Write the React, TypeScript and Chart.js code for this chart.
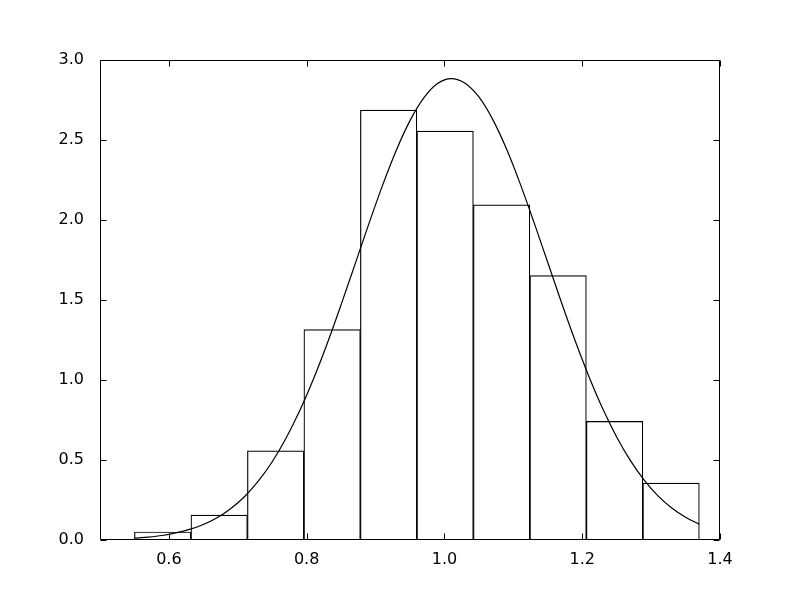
import React, { useEffect, useRef } from "react";
import { Chart, registerables } from "chart.js";

Chart.register(...registerables);

// Histogram bin edges and heights (density)
const binEdges = [0.55, 0.632, 0.714, 0.796, 0.878, 0.96, 1.042, 1.124, 1.206, 1.288, 1.37];
const binHeights = [0.05, 0.155, 0.557, 1.315, 2.687, 2.556, 2.095, 1.652, 0.741, 0.355];

// Fitted curve
const curveX = [
  0.55, 0.57, 0.59, 0.61, 0.63, 0.65, 0.67, 0.69, 0.71, 0.73, 0.75, 0.77, 0.79, 0.81,
  0.83, 0.85, 0.87, 0.89, 0.91, 0.93, 0.95, 0.97, 0.99, 1.01, 1.03, 1.05, 1.07, 1.09,
  1.11, 1.13, 1.15, 1.17, 1.19, 1.21, 1.23, 1.25, 1.27, 1.29, 1.31, 1.33, 1.35, 1.37,
];
const curveY = [
  0.011, 0.018, 0.028, 0.044, 0.066, 0.097, 0.139, 0.197, 0.272, 0.369, 0.489, 0.636,
  0.809, 1.008, 1.23, 1.471, 1.721, 1.973, 2.215, 2.435, 2.621, 2.763, 2.853, 2.884,
  2.855, 2.769, 2.629, 2.445, 2.226, 1.985, 1.734, 1.483, 1.242, 1.019, 0.818, 0.644,
  0.496, 0.374, 0.276, 0.2, 0.142, 0.098,
];

const xTicks = [0.6, 0.8, 1.0, 1.2, 1.4];
const yTicks = [0, 0.5, 1.0, 1.5, 2.0, 2.5, 3.0];

const FONT = { family: "'DejaVu Sans'", size: 16 };

const framePlugin = {
  id: "mplFrame",
  afterDatasetsDraw(chart: any) {
    const { ctx, chartArea, scales } = chart;
    const { left, right, top, bottom } = chartArea;
    const L = Math.round(left) + 0.5;
    const R = Math.round(right) - 0.5;
    const T = Math.round(top) + 0.5;
    const B = Math.round(bottom) - 0.5;
    const len = 6;
    ctx.save();
    ctx.strokeStyle = "#000";
    ctx.lineWidth = 1;
    ctx.beginPath();
    ctx.rect(L, T, R - L, B - T);
    for (const v of xTicks) {
      const px = Math.round(scales.x.getPixelForValue(v)) + 0.5;
      ctx.moveTo(px, B);
      ctx.lineTo(px, B - len);
      ctx.moveTo(px, T);
      ctx.lineTo(px, T + len);
    }
    for (const v of yTicks) {
      const py = Math.round(scales.y.getPixelForValue(v)) + 0.5;
      ctx.moveTo(L, py);
      ctx.lineTo(L + len, py);
      ctx.moveTo(R, py);
      ctx.lineTo(R - len, py);
    }
    ctx.stroke();
    ctx.restore();
  },
};

export default function App() {
  const ref = useRef<HTMLCanvasElement | null>(null);

  useEffect(() => {
    if (!ref.current) return;
    const barData = binHeights.map((h, i) => ({
      x: (binEdges[i] + binEdges[i + 1]) / 2,
      y: h,
    }));
    const lineData = curveX.map((x, i) => ({ x, y: curveY[i] }));

    const chart = new Chart(ref.current, {
      type: "bar",
      data: {
        datasets: [
          {
            type: "line",
            data: lineData,
            borderColor: "#000",
            borderWidth: 1.2,
            pointRadius: 0,
            fill: false,
            cubicInterpolationMode: "monotone",
            order: 0,
          } as any,
          {
            type: "bar",
            data: barData,
            backgroundColor: "#ffffff",
            borderColor: "#000",
            borderWidth: 1.2,
            borderSkipped: false,
            barPercentage: 1,
            categoryPercentage: 1,
            order: 1,
          } as any,
        ],
      },
      options: {
        responsive: false,
        animation: false,
        layout: { padding: { top: 60, right: 80, left: 0, bottom: 0 } },
        plugins: {
          legend: { display: false },
          tooltip: { enabled: false },
        },
        scales: {
          x: {
            type: "linear",
            min: 0.5,
            max: 1.4,
            offset: false,
            grid: { display: false },
            border: { display: false },
            afterBuildTicks: (scale: any) => {
              scale.ticks = xTicks.map((v) => ({ value: v }));
            },
            afterFit: (scale: any) => {
              scale.height = 60;
            },
            ticks: {
              color: "#000",
              font: FONT,
              padding: 2,
              maxRotation: 0,
              autoSkip: false,
              callback: (v: any) => Number(v).toFixed(1),
            },
          },
          y: {
            type: "linear",
            min: 0,
            max: 3,
            grid: { display: false },
            border: { display: false },
            afterBuildTicks: (scale: any) => {
              scale.ticks = yTicks.map((v) => ({ value: v }));
            },
            afterFit: (scale: any) => {
              scale.width = 100;
            },
            ticks: {
              color: "#000",
              font: FONT,
              padding: 8,
              autoSkip: false,
              callback: (v: any) => Number(v).toFixed(1),
            },
          },
        },
      } as any,
      plugins: [framePlugin],
    });
    return () => chart.destroy();
  }, []);

  return (
    <div style={{ position: "fixed", left: 0, top: 0, width: 800, height: 600, background: "#fff" }}>
      <canvas ref={ref} width={800} height={600} style={{ display: "block" }} />
    </div>
  );
}
